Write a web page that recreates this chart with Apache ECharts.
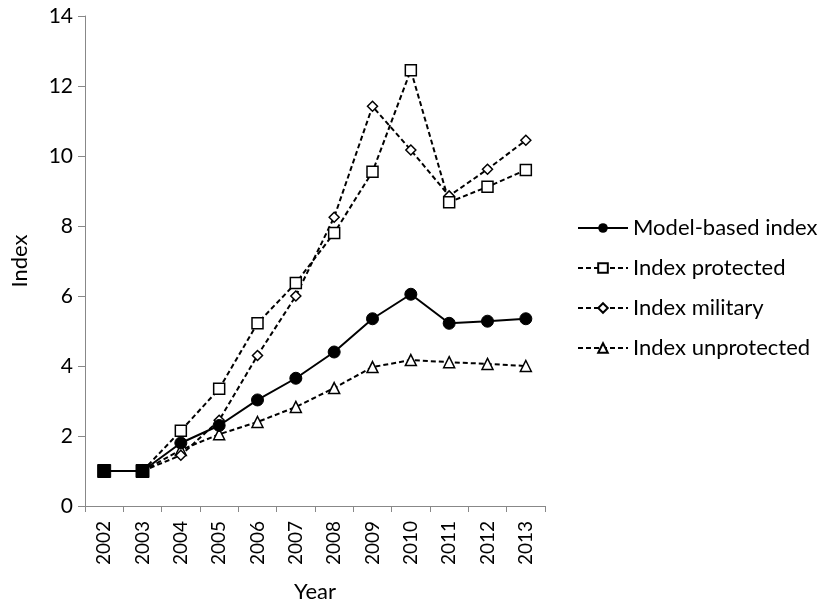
<!DOCTYPE html>
<html><head><meta charset="utf-8">
<script src="https://cdn.jsdelivr.net/npm/echarts@6/dist/echarts.min.js"></script>
<style>html,body{margin:0;padding:0;background:#fff}#c{width:827px;height:602px}</style>
</head><body><div id="c"></div>
<script>
const years = ['2002','2003','2004','2005','2006','2007','2008','2009','2010','2011','2012','2013'];
const modelBased = [1, 1, 1.8, 2.3, 3.03, 3.65, 4.4, 5.35, 6.05, 5.22, 5.28, 5.35];
const protectedIdx = [null, 1, 2.15, 3.35, 5.22, 6.37, 7.8, 9.55, 12.45, 8.68, 9.12, 9.6];
const militaryIdx = [null, 1, 1.45, 2.45, 4.3, 6.0, 8.25, 11.42, 10.17, 8.86, 9.62, 10.45];
const unprotectedIdx = [null, 1, 1.6, 2.05, 2.4, 2.83, 3.37, 3.97, 4.17, 4.11, 4.06, 4.0];
const FONT = 'Lato, "Open Sans", sans-serif';
const chart = echarts.init(document.getElementById('c'));
const modelData = modelBased.map((v,i)=> i<2 ? {value:v, symbol:'rect', symbolSize:13} : v);
chart.setOption({
  animation:false,
  textStyle:{fontFamily:FONT},
  grid:{left:85,right:282,top:16,bottom:96,containLabel:false,outerBoundsMode:'none'},
  legend:{
    orient:'vertical', left:572, top:212, itemGap:18, itemWidth:50, itemHeight:12,
    textStyle:{fontSize:22,color:'#000',fontFamily:FONT},
    data:['Model-based index','Index protected','Index military','Index unprotected']
  },
  xAxis:{
    type:'category', data:years, boundaryGap:true,
    name:'Year', nameLocation:'middle', nameGap:75,
    nameTextStyle:{fontSize:22,color:'#000',fontFamily:FONT},
    axisLine:{lineStyle:{color:'#888'}},
    axisTick:{show:true,inside:false,length:6,lineStyle:{color:'#888'}},
    axisLabel:{rotate:90,fontSize:19,color:'#000',margin:15,fontFamily:FONT}
  },
  yAxis:{
    type:'value', min:0, max:14, interval:2,
    name:'Index', nameLocation:'middle', nameGap:54, nameRotate:90,
    nameTextStyle:{fontSize:22,color:'#000',fontFamily:FONT},
    axisLine:{show:true,lineStyle:{color:'#888'}},
    axisTick:{show:true,length:7,lineStyle:{color:'#888'}},
    splitLine:{show:false},
    axisLabel:{fontSize:21,color:'#000',margin:12,fontFamily:FONT}
  },
  series:[
    {name:'Index unprotected', type:'line', data:unprotectedIdx, symbol:'triangle', symbolSize:11,
      lineStyle:{color:'#000',width:2,type:[5,3]}, itemStyle:{color:'#fff',borderColor:'#000',borderWidth:1.5}},
    {name:'Index military', type:'line', data:militaryIdx, symbol:'diamond', symbolSize:10,
      lineStyle:{color:'#000',width:2,type:[5,3]}, itemStyle:{color:'#fff',borderColor:'#000',borderWidth:1.5}},
    {name:'Index protected', type:'line', data:protectedIdx, symbol:'rect', symbolSize:11,
      lineStyle:{color:'#000',width:2,type:[5,3]}, itemStyle:{color:'#fff',borderColor:'#000',borderWidth:1.5}},
    {name:'Model-based index', type:'line', data:modelData, symbol:'circle', symbolSize:12,
      lineStyle:{color:'#000',width:2}, itemStyle:{color:'#000',borderColor:'#000'}}
  ]
});
</script></body></html>
